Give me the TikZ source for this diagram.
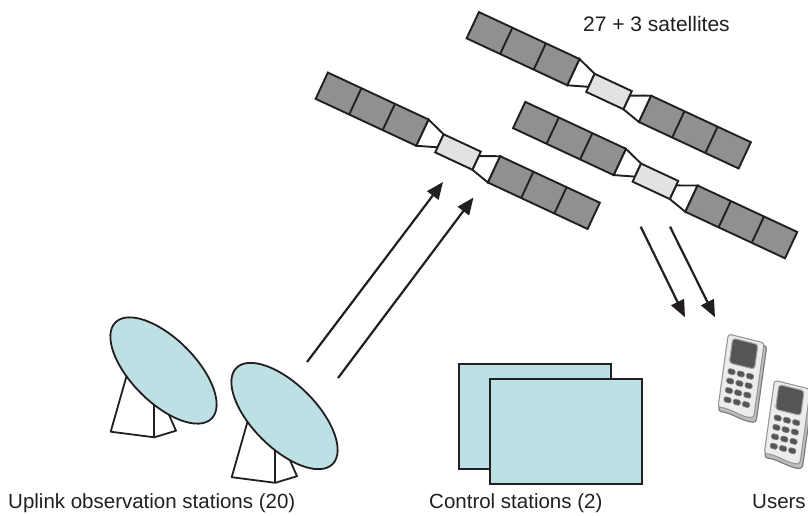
\documentclass[tikz,border=0pt]{standalone}
\usepackage{fontspec}
\setmainfont{Liberation Sans}
\usetikzlibrary{arrows.meta}

\definecolor{ink}{HTML}{231F20}
\definecolor{panelgray}{HTML}{909090}
\definecolor{busgray}{HTML}{E1E2E4}
\definecolor{dishblue}{HTML}{BDE0E4}
\definecolor{phoneedge}{HTML}{7D7D7D}
\definecolor{phoneside}{HTML}{BDBDBD}
\definecolor{phoneface}{HTML}{ECECEC}
\definecolor{phonescreen}{HTML}{555555}

\tikzset{
  satline/.style={draw=ink, line width=1.9pt, line join=miter},
  dishline/.style={draw=ink, line width=1.8pt, line join=round},
  station/.style={draw=ink, fill=dishblue, line width=1.9pt, inner sep=0pt,
                  minimum width=152pt, minimum height=105.5pt, anchor=north west},
  link/.style={draw=ink, line width=2.2pt, -{Triangle[length=17pt,width=14pt]}},
  lbl/.style={font=\fontsize{20.5}{24}\selectfont, text=ink, inner sep=0pt, anchor=base west},
  phonekey/.style={fill=phonescreen, draw=phoneedge, line width=0.6pt, rounded corners=1.5pt},
  % satellite: bus in the middle, two three-cell solar wings on trusses
  satellite/.pic={
    \draw[satline, fill=white] (-40.5,-17) -- (-20.5,-10) -- (-20.5,4.4) -- (-40.5,12) -- cycle;
    \draw[satline, fill=white] (40,-14) -- (20.5,-5) -- (20.5,10) -- (40,15) -- cycle;
    \draw[satline, fill=panelgray] (-151.5,-17) rectangle (-40.5,12);
    \draw[satline] (-114.5,-17) -- (-114.5,12) (-77.5,-17) -- (-77.5,12);
    \draw[satline, fill=panelgray] (40,-14) rectangle (150,15);
    \draw[satline] (76.7,-14) -- (76.7,15) (113.3,-14) -- (113.3,15);
    \draw[satline, fill=busgray] (-20.5,-10) rectangle (20.5,10);
  },
  % ground antenna: pedestal with a tilted dish
  dish/.pic={
    \draw[dishline, fill=white] (-35.5,0.5) -- (-52.8,61.2) -- (-9.2,66.8) -- (12.5,60.2) -- (2.5,37.5) -- cycle;
    \draw[dishline] (-9.2,29.5) -- (-9.2,66.8);
    \draw[dishline, fill=dishblue, rotate=-45] (0,0) ellipse [x radius=68, y radius=32];
  },
  % handset seen at a slant (slanted axes, so every box is an explicit path)
  phone/.pic={
    \begin{scope}[x={(0.97pt,-0.242pt)}, y={(-0.139pt,-0.99pt)}]
      \draw[fill=phoneside, draw=phoneedge, line width=1.2pt, rounded corners=3pt]
        (1.5,1.5) -- (40,2.5) -- (40,79.5) .. controls (27,82) and (14,76) .. (1,78) -- cycle;
      \draw[fill=phoneface, draw=phoneedge!80, line width=1.1pt, rounded corners=3pt]
        (0,0) -- (37,0) -- (37,75.5) .. controls (25,78) and (12,72) .. (0,74) -- cycle;
      \draw[fill=phonescreen, draw=phoneedge!70, line width=1pt, rounded corners=3pt]
        (5,3) -- (31,3) -- (31,28) -- (5,28) -- cycle;
      \foreach \w in {36,45.5,55,64.5}
        \foreach \c in {8.5,18,27.5}
          \draw[phonekey] (\c-3.6,\w-2.6) -- (\c+3.6,\w-2.6) -- (\c+3.6,\w+2.6) -- (\c-3.6,\w+2.6) -- cycle;
    \end{scope}
  }
}

\begin{document}
\begin{tikzpicture}[x=1pt, y=-1pt]
  \fill[white] (0,0) rectangle (808,516);
  \useasboundingbox (0,0) rectangle (808,516);

  % constellation
  \pic[rotate=-25] (satB) at (609,91.5) {satellite};
  \pic[rotate=-25] (satA) at (458,152) {satellite};
  \pic[rotate=-25] (satC) at (655.4,181.3) {satellite};
  \node[lbl, font=\fontsize{21}{24}\selectfont] (satlabel) at (583,31.7) {27 + 3 satellites};

  % uplink antennas
  \pic (dishA) at (163.5,370.5) {dish};
  \pic (dishB) at (284.5,416) {dish};

  % control centres
  \node[station] (ctrlback) at (458.3,362.7) {};
  \node[station] (ctrlfront) at (488.7,377.7) {};

  % user handsets
  \pic (phoneA) at (728.3,334) {phone};
  \pic (phoneB) at (774.5,380.3) {phone};

  % signal paths
  \coordinate (up1s) at (307,362);
  \coordinate (up1e) at (443,182);
  \coordinate (up2s) at (338,378);
  \coordinate (up2e) at (473.5,197.5);
  \coordinate (dn1s) at (640.7,226.7);
  \coordinate (dn1e) at (685,317.3);
  \coordinate (dn2s) at (670,226.7);
  \coordinate (dn2e) at (715,317.3);
  \draw[link] (up1s) -- (up1e);
  \draw[link] (up2s) -- (up2e);
  \draw[link] (dn1s) -- (dn1e);
  \draw[link] (dn2s) -- (dn2e);

  % captions
  \node[lbl] (uplabel) at (8,508) {Uplink observation stations (20)};
  \node[lbl] (ctrllabel) at (429,508) {Control stations (2)};
  \node[lbl] (userlabel) at (752,508) {Users};
\end{tikzpicture}
\end{document}
